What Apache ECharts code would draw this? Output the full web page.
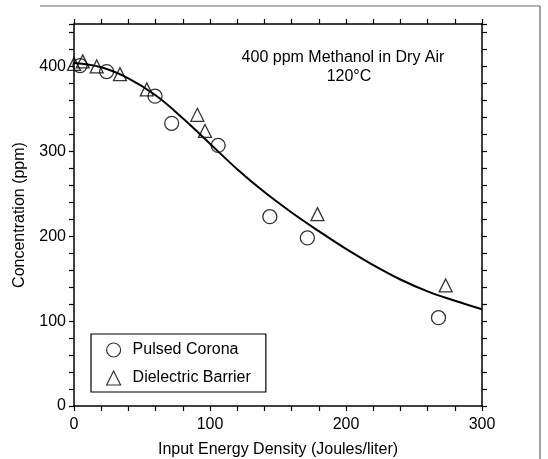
<!DOCTYPE html>
<html>
<head>
<meta charset="utf-8">
<script src="https://cdn.jsdelivr.net/npm/echarts@6/dist/echarts.min.js"></script>
<style>
  html, body { margin: 0; padding: 0; background: #fff; }
  #chart { width: 548px; height: 459px; }
</style>
</head>
<body>
<div id="chart"></div>
<script>
// Pulsed Corona (circles)
const coronaX = [4.4, 24, 59.6, 71.8, 106, 144, 171.6, 268]
const coronaY = [401, 394, 365, 333, 307, 223, 198, 104]
// Dielectric Barrier (triangles)
const barrierX = [0, 6.4, 16.7, 33.8, 53.5, 90.7, 96.3, 179, 273.3]
const barrierY = [403, 406, 400, 391, 373, 343, 324, 226, 142]
// fitted curve
const fitX = [0, 20, 40, 60, 80, 100, 120, 140, 160, 180, 200, 220, 240, 260, 280, 300]
const fitY = [404, 399, 386, 366, 339, 309, 279, 252, 228, 206, 185, 166, 149, 135, 124, 114]

const zip = (xs, ys) => xs.map((x, i) => [x, ys[i]])
const font = 'Liberation Sans, Arial, Helvetica, sans-serif'
const fs = 16

// ticks every 20, labels only on the hundreds
const showHundreds = v => (v % 100 === 0 ? String(v) : '')

function axisBase() {
  return {
    axisLine: { show: true, onZero: false, lineStyle: { color: '#000', width: 1.5 } },
    axisTick: { show: true, inside: false, length: 5, lineStyle: { color: '#000', width: 1.2 } },
    splitLine: { show: false },
  }
}

const chart = echarts.init(document.getElementById('chart'))
chart.setOption({
  backgroundColor: '#fff',
  animation: false,
  grid: { left: 74, right: 66, top: 24, bottom: 53, containLabel: false, outerBoundsMode: 'none' },
  xAxis: [
    Object.assign(axisBase(), {
      type: 'value', min: 0, max: 300, interval: 20, position: 'bottom',
      axisLabel: { formatter: showHundreds, color: '#000', fontSize: fs, fontFamily: font, margin: 11 },
      name: 'Input Energy Density (Joules/liter)',
      nameLocation: 'middle', nameGap: 36,
      nameTextStyle: { color: '#000', fontSize: fs, fontFamily: font },
    }),
    Object.assign(axisBase(), {
      type: 'value', min: 0, max: 300, interval: 20, position: 'top',
      axisLabel: { show: false },
    }),
  ],
  yAxis: [
    Object.assign(axisBase(), {
      type: 'value', min: 0, max: 450, interval: 20, position: 'left',
      axisLabel: { formatter: showHundreds, color: '#000', fontSize: fs, fontFamily: font, margin: 8 },
      name: 'Concentration (ppm)',
      nameLocation: 'middle', nameGap: 46,
      nameTextStyle: { color: '#000', fontSize: fs, fontFamily: font },
    }),
    Object.assign(axisBase(), {
      type: 'value', min: 0, max: 450, interval: 20, position: 'right',
      axisLabel: { show: false },
    }),
  ],
  legend: {
    orient: 'vertical',
    left: 91, top: 334,
    padding: [8, 15, 6, 15],
    itemGap: 12,
    itemWidth: 14, itemHeight: 14,
    borderColor: '#000', borderWidth: 1.2,
    textStyle: { color: '#000', fontSize: fs, fontFamily: font, padding: [0, 0, 0, 7] },
    data: [
      { name: 'Pulsed Corona', icon: 'circle', itemStyle: { color: '#fff', borderColor: '#000', borderWidth: 1.2 } },
      { name: 'Dielectric Barrier', icon: 'triangle', itemStyle: { color: '#fff', borderColor: '#000', borderWidth: 1.2 } },
    ],
  },
  graphic: [
    // figure frame (top and right edges of the scanned box)
    { type: 'line', shape: { x1: 40, y1: 6, x2: 540, y2: 6 }, style: { stroke: '#666', lineWidth: 1.2 } },
    { type: 'line', shape: { x1: 540, y1: 6, x2: 540, y2: 459 }, style: { stroke: '#666', lineWidth: 1.2 } },
    {
      type: 'text', x: 343, y: 58,
      style: { text: '400 ppm Methanol in Dry Air', fill: '#000', fontSize: fs, fontFamily: font,
        textAlign: 'center', textVerticalAlign: 'middle' },
    },
    {
      type: 'text', x: 349, y: 77,
      style: { text: '120°C', fill: '#000', fontSize: fs, fontFamily: font,
        textAlign: 'center', textVerticalAlign: 'middle' },
    },
  ],
  series: [
    {
      name: 'fit',
      type: 'line',
      data: zip(fitX, fitY),
      smooth: 0.4,
      showSymbol: false,
      lineStyle: { color: '#000', width: 2 },
      z: 2,
    },
    {
      name: 'Pulsed Corona',
      type: 'scatter',
      data: zip(coronaX, coronaY),
      symbol: 'circle',
      symbolSize: 14,
      itemStyle: { color: 'rgba(255,255,255,0)', borderColor: '#000', borderWidth: 1.3 },
      z: 3,
    },
    {
      name: 'Dielectric Barrier',
      type: 'scatter',
      data: zip(barrierX, barrierY),
      symbol: 'triangle',
      symbolSize: 13,
      itemStyle: { color: 'rgba(255,255,255,0)', borderColor: '#000', borderWidth: 1.3 },
      z: 3,
    },
  ],
})
</script>
</body>
</html>
